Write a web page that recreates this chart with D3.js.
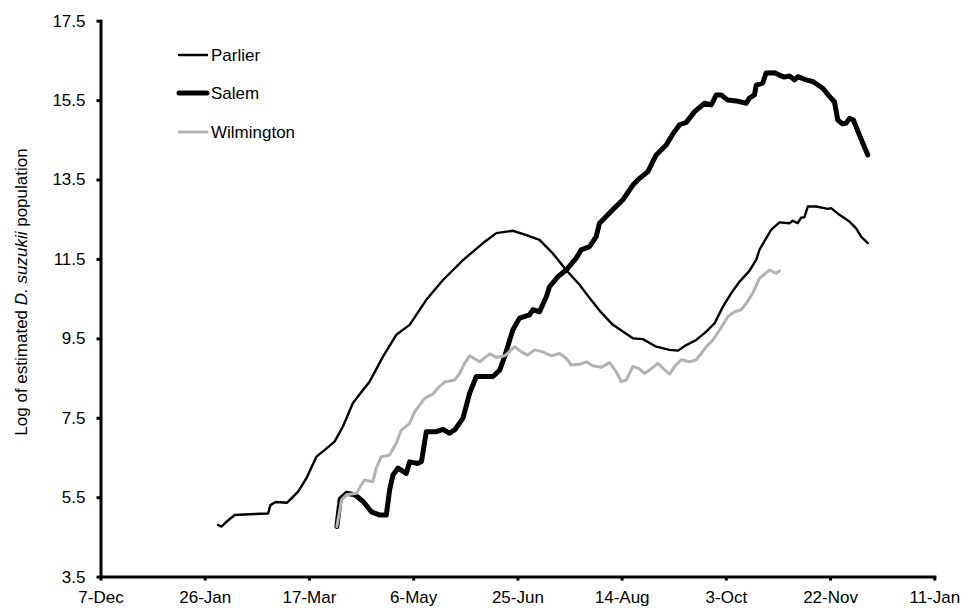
<!DOCTYPE html>
<html>
<head>
<meta charset="utf-8">
<script src="https://cdn.jsdelivr.net/npm/d3@7"></script>
<style>
  body { margin: 0; background: #fff; }
  svg { display: block; font-family: "Liberation Sans", Arial, sans-serif; }
</style>
</head>
<body>
<svg id="chart" width="963" height="608"></svg>
<script>
// x: days since 7-Dec
const xTickDays = [0, 50, 100, 150, 200, 250, 300, 350, 400];
const xTickLabels = ["7-Dec", "26-Jan", "17-Mar", "6-May", "25-Jun", "14-Aug", "3-Oct", "22-Nov", "11-Jan"];
const yTicks = [3.5, 5.5, 7.5, 9.5, 11.5, 13.5, 15.5, 17.5];

const parlierDays = [56.4, 58, 60.4, 64.4, 71.6, 80.4, 81.5, 84, 89.5, 91.6, 94.8, 98.8, 103.6, 107.6, 112.3, 116.3, 121.1, 125.9, 129.1, 135.5, 141.9, 148.3, 156.3, 164.3, 173.9, 183.5, 189.9, 197.8, 204.3, 210.6, 217, 223.4, 229.8, 234.6, 239.4, 245.8, 255.4, 260.2, 266.6, 273, 277, 281, 285.8, 290.6, 294.6, 298.6, 302.6, 306.6, 311.3, 314.6, 316.1, 321.7, 325.7, 330.5, 332.1, 334.5, 336.1, 337.7, 339.3, 343.3, 348.9, 350.5, 354.5, 359.3, 362.5, 364.9, 368.1];
const parlierValues = [4.80, 4.76, 4.88, 5.05, 5.07, 5.09, 5.30, 5.38, 5.36, 5.47, 5.64, 5.98, 6.52, 6.69, 6.90, 7.28, 7.87, 8.20, 8.41, 9.04, 9.59, 9.84, 10.47, 10.97, 11.47, 11.90, 12.15, 12.21, 12.10, 11.98, 11.64, 11.22, 10.85, 10.52, 10.20, 9.84, 9.50, 9.48, 9.29, 9.21, 9.19, 9.33, 9.46, 9.67, 9.88, 10.30, 10.64, 10.93, 11.20, 11.48, 11.73, 12.23, 12.42, 12.40, 12.46, 12.40, 12.54, 12.55, 12.82, 12.82, 12.76, 12.78, 12.61, 12.44, 12.27, 12.06, 11.90];

const salemDays = [113.4, 115, 118, 122, 126, 130, 134, 137.1, 138.7, 140.3, 142.7, 146.7, 148.3, 152.3, 154, 156.3, 161.1, 164.3, 167.5, 170, 173.9, 177.1, 180.3, 188.3, 191.5, 193.9, 196.3, 197.8, 201, 205.8, 207.4, 210.6, 213.9, 215.4, 219.4, 223.4, 228.2, 230.6, 234.6, 237.8, 239.4, 245, 250.6, 255.4, 258.6, 262.6, 266.6, 271.4, 274.6, 277.8, 281, 285, 289.8, 293, 295.4, 297.8, 300.9, 305, 309.8, 311.3, 313.7, 314.6, 317.7, 319.3, 323.3, 325.7, 328.1, 330.5, 332.9, 334.5, 338.5, 341.7, 346.5, 349.7, 352.1, 353.7, 356.1, 357.7, 359.3, 361.2, 364.1, 368.1];
const salemValues = [4.76, 5.45, 5.60, 5.56, 5.39, 5.13, 5.05, 5.05, 5.68, 6.06, 6.23, 6.10, 6.39, 6.35, 6.40, 7.15, 7.15, 7.21, 7.11, 7.20, 7.49, 8.12, 8.54, 8.54, 8.70, 9.04, 9.46, 9.71, 10.01, 10.09, 10.22, 10.17, 10.55, 10.80, 11.05, 11.22, 11.52, 11.73, 11.81, 12.06, 12.40, 12.70, 12.99, 13.36, 13.53, 13.70, 14.12, 14.37, 14.65, 14.88, 14.94, 15.21, 15.42, 15.38, 15.63, 15.63, 15.50, 15.48, 15.42, 15.55, 15.63, 15.88, 15.93, 16.18, 16.19, 16.13, 16.08, 16.11, 16.01, 16.09, 16.01, 15.97, 15.80, 15.59, 15.46, 15.00, 14.90, 14.92, 15.04, 15.00, 14.62, 14.12];

const wilmingtonDays = [113.4, 115.6, 118, 122.8, 125.1, 126.7, 130.7, 132.3, 134.7, 138.7, 141.9, 144.3, 148.3, 150.7, 153.1, 155.5, 159.5, 161.9, 165.1, 169.9, 172.3, 174.7, 177.1, 181.9, 186.7, 189.9, 193.9, 198.7, 201.9, 205, 208.3, 212.2, 216.3, 220.2, 223.4, 225.9, 230, 233, 236.2, 240.2, 244.2, 247.4, 249.8, 252.2, 255.4, 258, 261, 263.4, 267.4, 269.8, 273, 275.4, 278.6, 282.6, 285.8, 288.2, 290.6, 293.8, 297, 301, 304.2, 307.4, 309.8, 312.9, 316.1, 320.9, 324.2, 325.7];
const wilmingtonValues = [4.76, 5.43, 5.56, 5.60, 5.81, 5.93, 5.89, 6.23, 6.52, 6.56, 6.86, 7.19, 7.36, 7.65, 7.82, 7.99, 8.10, 8.25, 8.40, 8.45, 8.62, 8.87, 9.06, 8.91, 9.11, 9.02, 9.06, 9.29, 9.16, 9.08, 9.21, 9.16, 9.06, 9.12, 9.00, 8.83, 8.85, 8.91, 8.81, 8.77, 8.89, 8.66, 8.41, 8.45, 8.79, 8.75, 8.62, 8.70, 8.87, 8.75, 8.60, 8.79, 8.96, 8.91, 8.96, 9.12, 9.29, 9.46, 9.71, 10.05, 10.17, 10.22, 10.38, 10.64, 11.01, 11.22, 11.14, 11.20];

const seriesNames = ["Parlier", "Salem", "Wilmington"];

const svg = d3.select("#chart");
const x = d3.scaleLinear().domain([0, 400]).range([100.5, 934.3]);
const y = d3.scaleLinear().domain([3.5, 17.5]).range([576.6, 20.7]);

const styles = {
  Parlier: { color: "#000", width: 2.4 },
  Salem: { color: "#000", width: 5 },
  Wilmington: { color: "#b3b3b3", width: 3 }
};

const series = [
  { name: "Parlier", pts: parlierDays.map((d, i) => [d, parlierValues[i]]) },
  { name: "Salem", pts: salemDays.map((d, i) => [d, salemValues[i]]) },
  { name: "Wilmington", pts: wilmingtonDays.map((d, i) => [d, wilmingtonValues[i]]) }
];

const line = d3.line().x(d => x(d[0])).y(d => y(d[1]));

svg.append("g").selectAll("path").data(series).join("path")
  .attr("d", s => line(s.pts))
  .attr("fill", "none")
  .attr("stroke", s => styles[s.name].color)
  .attr("stroke-width", s => styles[s.name].width)
  .attr("stroke-linejoin", "round")
  .attr("stroke-linecap", "round");

// axes
const xAxis = d3.axisBottom(x).tickValues(xTickDays)
  .tickFormat((d, i) => xTickLabels[i]).tickSizeInner(4).tickSizeOuter(0).tickPadding(10);
const gx = svg.append("g").attr("transform", `translate(0,${y(3.5)})`).call(xAxis);

const yAxis = d3.axisLeft(y).tickValues(yTicks)
  .tickFormat(d3.format(".1f")).tickSizeInner(4).tickSizeOuter(0).tickPadding(11);
const gy = svg.append("g").attr("transform", `translate(${x(0)},0)`).call(yAxis);

[gx, gy].forEach(g => {
  g.select(".domain").attr("stroke", "#000").attr("stroke-width", 3).attr("stroke-linecap", "square");
  g.selectAll(".tick line").attr("stroke", "#000").attr("stroke-width", 3);
  g.selectAll(".tick text").attr("fill", "#000").style("font-size", "17px")
    .style("font-family", "'Liberation Sans', Arial, sans-serif");
});

// y title
const title = svg.append("text")
  .attr("transform", "translate(27,292) rotate(-90)")
  .attr("text-anchor", "middle")
  .style("font-size", "17px").attr("fill", "#000");
title.append("tspan").text("Log of estimated ");
title.append("tspan").style("font-style", "italic").text("D. suzukii");
title.append("tspan").text(" population");

// legend
const legendY = [55, 93, 132];
const lg = svg.append("g").selectAll("g").data(seriesNames).join("g")
  .attr("transform", (d, i) => `translate(0,${legendY[i]})`);
lg.append("line").attr("x1", 179).attr("x2", 207).attr("y1", 0).attr("y2", 0)
  .attr("stroke", d => styles[d].color).attr("stroke-width", d => styles[d].width)
  .attr("stroke-linecap", "round");
lg.append("text").attr("x", 211).attr("dy", "0.35em")
  .style("font-size", "17px").attr("fill", "#000").text(d => d);
</script>
</body>
</html>
